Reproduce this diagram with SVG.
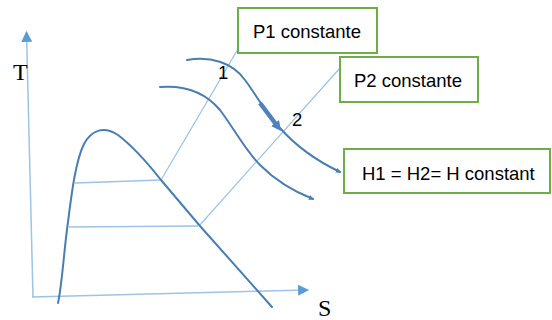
<svg xmlns="http://www.w3.org/2000/svg" width="552" height="320" viewBox="0 0 552 320">
<defs>
<style>
.axis{stroke:#9DC3E6;stroke-width:1.5;fill:none}
.thin{stroke:#9DC3E6;stroke-width:1.3;fill:none}
.curve{stroke:#4A7EB0;stroke-width:2;fill:none;stroke-linecap:round}
.box{fill:#fff;stroke:#70AD47;stroke-width:2}
.lbl{font-family:"Liberation Sans",Arial,sans-serif;font-size:18.5px;fill:#000}
.ax{font-family:"Liberation Serif","Times New Roman",serif;font-size:24px;fill:#000}
</style>
<marker id="ah" viewBox="0 0 10 10" refX="9" refY="5" markerWidth="11" markerHeight="11" markerUnits="userSpaceOnUse" orient="auto">
<path d="M0,0 L10,5 L0,10 Z" fill="#5B9BD5"/>
</marker>
<marker id="sm" viewBox="0 0 10 10" refX="8" refY="5" markerWidth="5" markerHeight="5" markerUnits="userSpaceOnUse" orient="auto">
<path d="M0,0 L10,5 L0,10 Z" fill="#4A7EB0"/>
</marker>
<marker id="big" viewBox="0 0 10 10" refX="5" refY="5" markerWidth="10" markerHeight="10" markerUnits="userSpaceOnUse" orient="auto">
<path d="M0,0 L10,5 L0,10 Z" fill="#4F81BD"/>
</marker>
</defs>
<g id="connectors">
<line class="axis" x1="33" y1="297" x2="26.5" y2="32" marker-end="url(#ah)"/>
<line class="axis" x1="32" y1="297" x2="308" y2="290" marker-end="url(#ah)"/>
<line class="thin" x1="75" y1="183" x2="161" y2="180"/>
<line class="thin" x1="69" y1="227" x2="198" y2="226"/>
<line class="thin" x1="161" y1="180" x2="238" y2="49"/>
<line class="thin" x1="199" y1="226" x2="340" y2="68"/>
<path class="curve" d="M58,303 C62,285 64,250 68,222 C72,190 76,160 84,144 C91,131 103,125 118,135 C135,148 150,166 161,180 L200,226 L272,307"/>
<path class="curve" d="M187,60 C210,56 232,62 245,80 C255,93 262,108 280,128 C295,145 315,160 340,172" marker-end="url(#sm)"/>
<path class="curve" d="M160,87 C185,85 205,92 220,110 C235,130 245,150 260,165 C275,180 295,192 313,199" marker-end="url(#sm)"/>
<line x1="260" y1="103" x2="278" y2="127" stroke="#4F81BD" stroke-width="4.5" marker-end="url(#big)"/>
</g>
<g id="axisT"><text class="ax" x="13" y="80">T</text></g>
<g id="axisS"><text class="ax" x="318" y="316">S</text></g>
<g id="pt1"><text class="lbl" x="218" y="79">1</text></g>
<g id="pt2"><text class="lbl" x="292" y="126">2</text></g>
<g id="p1">
<rect class="box" x="238" y="8" width="139" height="45"/>
<text class="lbl" x="253" y="38">P1 constante</text>
</g>
<g id="p2">
<rect class="box" x="340" y="57" width="138" height="45"/>
<text class="lbl" x="354" y="87">P2 constante</text>
</g>
<g id="h">
<rect class="box" x="344" y="149" width="206" height="44"/>
<text class="lbl" x="362" y="180">H1 = H2= H constant</text>
</g>
</svg>
